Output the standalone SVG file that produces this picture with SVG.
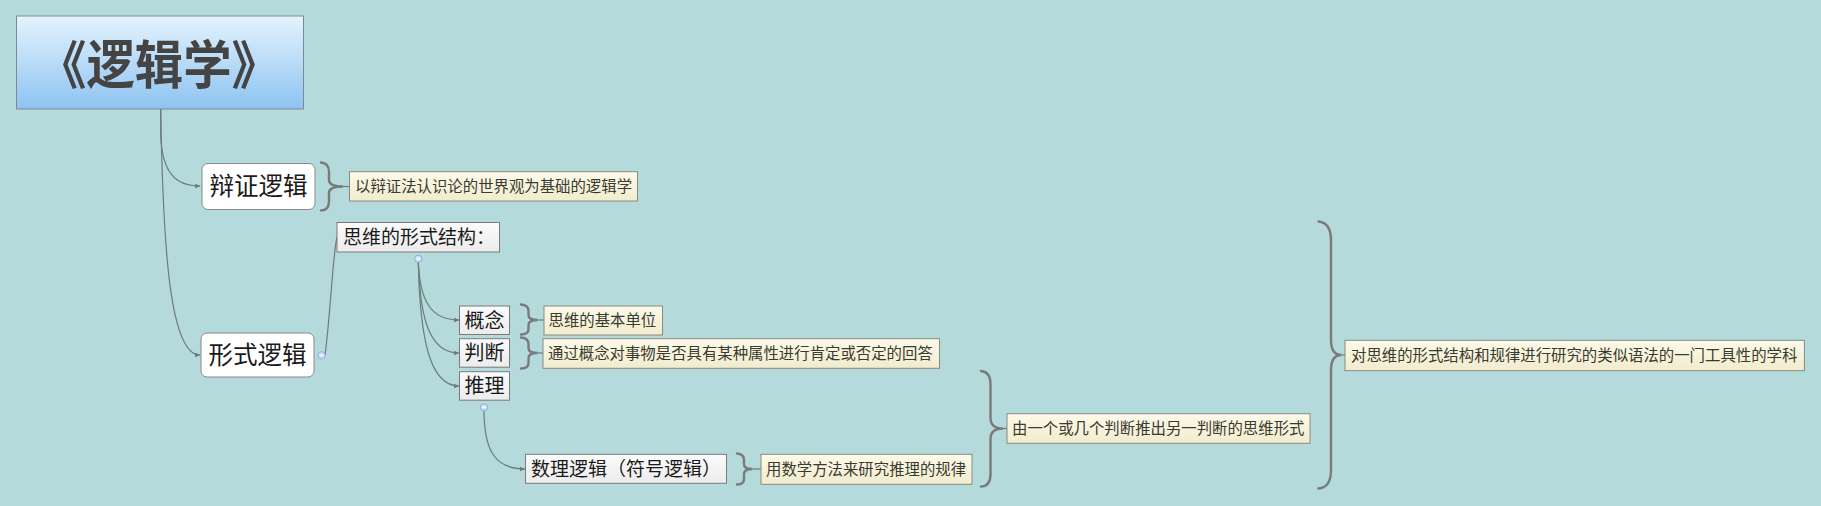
<svg xmlns="http://www.w3.org/2000/svg" width="1821" height="506" viewBox="0 0 1821 506">
  <defs>
    <linearGradient id="gTitle" x1="0" y1="0" x2="0" y2="1">
      <stop offset="0" stop-color="#e4f3fd"/>
      <stop offset="1" stop-color="#8dc3f1"/>
    </linearGradient>
    <linearGradient id="gNode" x1="0" y1="0" x2="0" y2="1">
      <stop offset="0" stop-color="#fbfbfb"/>
      <stop offset="1" stop-color="#ececec"/>
    </linearGradient>
    <linearGradient id="gNote" x1="0" y1="0" x2="0" y2="1">
      <stop offset="0" stop-color="#fcfaea"/>
      <stop offset="1" stop-color="#f1ecce"/>
    </linearGradient>
    <marker id="arr" viewBox="0 0 10 10" refX="9" refY="5" markerWidth="6" markerHeight="6" orient="auto" markerUnits="userSpaceOnUse">
      <path d="M0,1 L10,5 L0,9 z" fill="#6d7c7c"/>
    </marker>
  </defs>
  <style>
    .bg { fill: #b4dadb; }
    .conn { fill: none; stroke: #6d7c7c; stroke-width: 1.2; }
    .brace { fill: none; stroke: #7a7a7a; stroke-width: 2.4; stroke-linecap: round; }
    .root { fill: #ffffff; stroke: #8a8a8a; stroke-width: 1; }
    .node { fill: url(#gNode); stroke: #7a7a7a; stroke-width: 1; }
    .note { fill: url(#gNote); stroke: #8a8a80; stroke-width: 1; }
    .title { fill: url(#gTitle); stroke: #7d8a94; stroke-width: 1; }
    .tt { font-family: "Noto Sans CJK SC", "Noto Sans", sans-serif; font-weight: bold; fill: #444444; }
    .t1 { font-family: "Noto Sans CJK SC", "Noto Sans", sans-serif; fill: #1a1a1a; }
    .tn { font-family: "Noto Sans CJK SC", "Noto Sans", sans-serif; fill: #3a3a30; font-size: 15.4px; }
    .col { fill: #cfe0f4; stroke: #8eaed6; stroke-width: 1; }
    .colm { stroke: #ffffff; stroke-width: 1.2; }
  </style>
  <rect class="bg" x="0" y="0" width="1821" height="506"/>

  <g id="connectors">
    <path class="conn" d="M160.7,109 L160.7,135 C162,172 175,186 200,186" marker-end="url(#arr)"/>
    <path class="conn" d="M160.7,109 C163,250 170,355 200,355" marker-end="url(#arr)"/>
    <path class="conn" d="M325,355 C330,320 333,252 337,237"/>
    <path class="conn" d="M418.3,262 C420,300 430,320 459,320" marker-end="url(#arr)"/>
    <path class="conn" d="M418.3,262 C420,320 430,353 459,353" marker-end="url(#arr)"/>
    <path class="conn" d="M418.3,262 C420,340 430,386 459,386" marker-end="url(#arr)"/>
    <path class="conn" d="M484,410 C484,452 496,469 525,469" marker-end="url(#arr)"/>
    <!-- braces -->
    <path class="brace" d="M321,162.5 Q329,163 329,172 L329,180 Q329,186.5 343,186.5 Q329,186.5 329,193 L329,201 Q329,210.5 321,210.5"/>
    <path class="conn" d="M343,186.5 L349.5,186.5"/>
    <path class="brace" d="M521,304.5 Q528.5,305 528.5,311 L528.5,315 Q528.5,320 537.5,320 Q528.5,320 528.5,325 L528.5,329 Q528.5,334.5 521,334.5"/>
    <path class="conn" d="M537.5,320 L544,320"/>
    <path class="brace" d="M521,337.5 Q528.5,338 528.5,344 L528.5,348 Q528.5,353 537.5,353 Q528.5,353 528.5,358 L528.5,363 Q528.5,368.5 521,368.5"/>
    <path class="conn" d="M537.5,353 L543,353"/>
    <path class="brace" d="M737,453.5 Q744,454 744,460 L744,464 Q744,469 752,469 Q744,469 744,474 L744,479 Q744,484.5 737,484.5"/>
    <path class="conn" d="M752,469 L761,469"/>
    <path class="brace" d="M981,371 Q990.5,372 990.5,384 L990.5,418 Q990.5,428.5 1003,428.5 Q990.5,428.5 990.5,439 L990.5,474 Q990.5,486.5 981,486.5"/>
    <path class="conn" d="M1003,428.5 L1007,428.5"/>
    <path class="brace" d="M1318.5,221.5 Q1331,223 1331,240 L1331,340 Q1331,355 1341.5,355 Q1331,355 1331,370 L1331,470 Q1331,487.5 1318.5,488.5"/>
    <path class="conn" d="M1341.5,355 L1345,355"/>
  </g>

  <g id="root">
    <rect class="title" x="16.5" y="16" width="287" height="93"/>
    <text class="tt" x="159" y="84" font-size="52" text-anchor="middle" textLength="242" lengthAdjust="spacingAndGlyphs">《逻辑学》</text>
  </g>

  <g id="n-bianzheng">
    <rect class="root" x="202" y="163.5" width="113" height="46" rx="6"/>
    <text class="t1" x="258.5" y="195" font-size="24.5" text-anchor="middle">辩证逻辑</text>
  </g>
  <g id="note-bianzheng">
    <rect class="note" x="349.5" y="171.7" width="288" height="29.3"/>
    <text class="tn" x="355" y="192">以辩证法认识论的世界观为基础的逻辑学</text>
  </g>

  <g id="n-xingshi">
    <rect class="root" x="201" y="333" width="113" height="44" rx="6"/>
    <text class="t1" x="257.5" y="363.5" font-size="24.5" text-anchor="middle">形式逻辑</text>
    <circle class="col" cx="321.5" cy="355.3" r="3.6"/>
    <line class="colm" x1="319.5" y1="355.3" x2="323.5" y2="355.3"/>
  </g>

  <g id="n-siwei">
    <rect class="node" x="337" y="222.5" width="162.5" height="29.5"/>
    <text class="t1" x="343" y="244" font-size="19">思维的形式结构：</text>
    <circle class="col" cx="418.3" cy="258.7" r="3.6"/>
    <line class="colm" x1="416.3" y1="258.7" x2="420.3" y2="258.7"/>
  </g>

  <g id="n-gainian">
    <rect class="node" x="459.5" y="306" width="50" height="28.5"/>
    <text class="t1" x="484.5" y="327.5" font-size="20" text-anchor="middle">概念</text>
  </g>
  <g id="note-gainian">
    <rect class="note" x="544" y="306" width="118.5" height="29"/>
    <text class="tn" x="548.5" y="326">思维的基本单位</text>
  </g>

  <g id="n-panduan">
    <rect class="node" x="459.5" y="338.7" width="50" height="28.5"/>
    <text class="t1" x="484.5" y="360.2" font-size="20" text-anchor="middle">判断</text>
  </g>
  <g id="note-panduan">
    <rect class="note" x="543" y="338.7" width="396.5" height="29.6"/>
    <text class="tn" x="548" y="359">通过概念对事物是否具有某种属性进行肯定或否定的回答</text>
  </g>

  <g id="n-tuili">
    <rect class="node" x="459.5" y="371.7" width="50" height="28.5"/>
    <text class="t1" x="484.5" y="393.2" font-size="20" text-anchor="middle">推理</text>
    <circle class="col" cx="484" cy="407.3" r="3.6"/>
    <line class="colm" x1="482" y1="407.3" x2="486" y2="407.3"/>
  </g>
  <g id="note-tuili">
    <rect class="note" x="1007" y="413.7" width="303" height="29.6"/>
    <text class="tn" x="1012" y="434">由一个或几个判断推出另一判断的思维形式</text>
  </g>

  <g id="n-shuli">
    <rect class="node" x="525.5" y="454.3" width="201" height="29"/>
    <text class="t1" x="531" y="475.5" font-size="19">数理逻辑（符号逻辑）</text>
  </g>
  <g id="note-shuli">
    <rect class="note" x="761" y="454.3" width="211" height="30"/>
    <text class="tn" x="766" y="475">用数学方法来研究推理的规律</text>
  </g>

  <g id="note-siwei">
    <rect class="note" x="1345" y="340.3" width="459.4" height="30.4"/>
    <text class="tn" x="1351" y="361">对思维的形式结构和规律进行研究的类似语法的一门工具性的学科</text>
  </g>
</svg>
